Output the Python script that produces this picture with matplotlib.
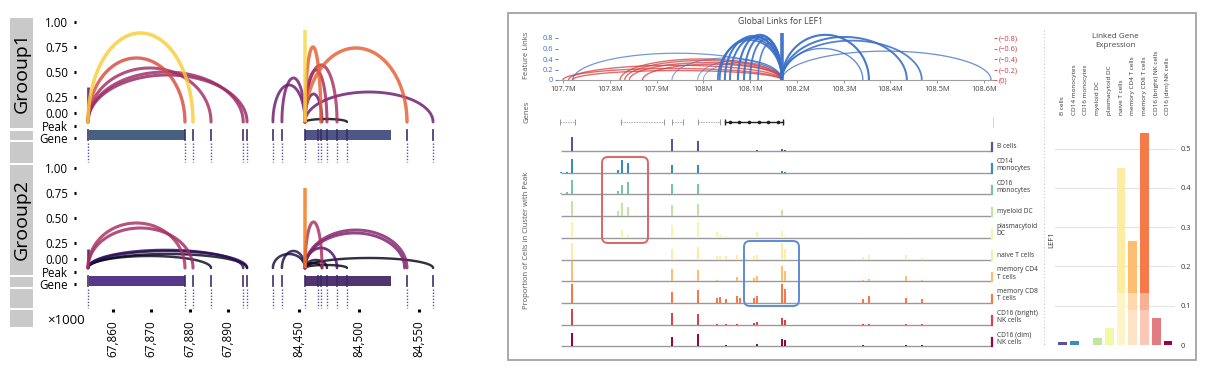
import numpy as np
import matplotlib
matplotlib.use("Agg")
import matplotlib.pyplot as plt
from matplotlib.patches import Rectangle, FancyBboxPatch
from matplotlib.transforms import Affine2D
from matplotlib.lines import Line2D

plt.rcParams['font.family'] = ['Open Sans', 'DejaVu Sans']

# ================= DATA : left arc panel =================
GROUPS = ['Grooup1', 'Grooup2']
Y_TICKS = [1.0, 0.75, 0.5, 0.25, 0.09, -0.04, -0.16]
Y_TICKLABELS = ['1.00', '0.75', '0.50', '0.25', '0.00', 'Peak', 'Gene']
R1_TICKS = [67860, 67870, 67880, 67890]
R1_TICKLABELS = ['67,860', '67,870', '67,880', '67,890']
R2_TICKS = [84450, 84500, 84550]
R2_TICKLABELS = ['84,450', '84,500', '84,550']
R1_PEAKS = [67853.5, 67878.8, 67880.9, 67885.6, 67894.0, 67895.0]
R2_PEAKS = [84428.3, 84435.8, 84455.0, 84465.8, 84468.3, 84473.3, 84481.7, 84490.0, 84540.0, 84561.7]
R1_GENE = [67853.8, 67878.8]
R2_GENE = [84455.0, 84526.7]

G1R1_START = [67853.5, 67853.5, 67853.5, 67853.5, 67853.5, 67853.5]
G1R1_END = [67880.9, 67878.8, 67885.6, 67894.0, 67895.0, 67853.5]
G1R1_HEIGHT = [0.89, 0.64, 0.54, 0.50, 0.47, 0.35]
G1R1_SCORE = [0.88, 0.58, 0.44, 0.42, 0.40, 0.25]

G1R2_START = [84428.3, 84435.8, 84455, 84455, 84455, 84455, 84455, 84455, 84455, 84455]
G1R2_END = [84455, 84455, 84455, 84468.3, 84481.7, 84473.3, 84469.2, 84540, 84561.7, 84490]
G1R2_HEIGHT = [0.37, 0.44, 0.92, 0.75, 0.57, 0.52, 0.28, 0.74, 0.30, 0.03]
G1R2_SCORE = [0.30, 0.32, 0.90, 0.64, 0.45, 0.43, 0.28, 0.64, 0.30, 0.02]

G2R1_START = [67853.5, 67853.5, 67853.5, 67853.5, 67853.5, 67853.5, 67853.5]
G2R1_END = [67878.8, 67880.9, 67885.6, 67894.0, 67895.0, 67895.0, 67853.5]
G2R1_HEIGHT = [0.45, 0.40, 0.12, 0.18, 0.17, 0.14, 0.19]
G2R1_SCORE = [0.45, 0.43, 0.06, 0.15, 0.13, 0.05, 0.15]

G2R2_START = [84455, 84455, 84455, 84455, 84455, 84428.3, 84435.8, 84455, 84455, 84455, 84455]
G2R2_END = [84455, 84469.2, 84540, 84538, 84481.7, 84455, 84455, 84561.7, 84490, 84473.3, 84469.2]
G2R2_HEIGHT = [0.80, 0.46, 0.38, 0.35, 0.20, 0.14, 0.17, 0.10, 0.03, 0.08, 0.05]
G2R2_SCORE = [0.70, 0.45, 0.36, 0.34, 0.22, 0.10, 0.12, 0.04, 0.02, 0.08, 0.05]

# ================= DATA : right (LEF1) panel =================
LINK_ANCHOR = 108.168
LINK_OTHER = [108.354, 108.435, 108.467, 108.341, 108.615,
              107.721, 107.933, 107.988, 108.000,
              108.031, 108.035, 108.046, 108.057, 108.074, 108.087, 108.100, 108.117,
              108.168,
              107.700, 107.712, 107.822, 107.832, 107.842, 107.720, 107.870]
LINK_SCORE = [0.86, 0.82, 0.75, 0.60, 0.55,
              0.51, 0.42, 0.38, 0.33,
              0.76, 0.80, 0.84, 0.82, 0.86, 0.83, 0.78, 0.70,
              0.90,
              -0.22, -0.28, -0.40, -0.37, -0.33, -0.18, -0.30]
LINK_YTICKS = [0, 0.2, 0.4, 0.6, 0.8]
LINK_LEFTLABELS = ['0', '0.2', '0.4', '0.6', '0.8']
LINK_RIGHTLABELS = ['(0)', '(\u22120.2)', '(\u22120.4)', '(\u22120.6)', '(\u22120.8)']
MB_TICKS = [107.7, 107.8, 107.9, 108.0, 108.1, 108.2, 108.3, 108.4, 108.5, 108.6]
MB_LABELS = ['107.7M', '107.8M', '107.9M', '108M', '108.1M', '108.2M', '108.3M', '108.4M', '108.5M', '108.6M']

GENE_START = [107.694, 107.824, 107.933, 107.988, 108.046]
GENE_END = [107.726, 107.916, 107.956, 108.035, 108.170]
GENE_IS_LEF1 = [False, False, False, False, True]

CELL_TYPES = ['B cells', 'CD14\nmonocytes', 'CD16\nmonocytes', 'myeloid DC', 'plasmacytoid\nDC',
              'naive T cells', 'memory CD4\nT cells', 'memory CD8\nT cells', 'CD16 (bright)\nNK cells',
              'CD16 (dim)\nNK cells']
CELL_TYPES_SHORT = ['B cells', 'CD14 monocytes', 'CD16 monocytes', 'myeloid DC', 'plasmacytoid DC',
                    'naive T cells', 'memory CD4 T cells', 'memory CD8 T cells', 'CD16 (bright) NK cells',
                    'CD16 (dim) NK cells']
PEAK_POS = [107.696, 107.709, 107.719, 107.818, 107.826, 107.839, 107.918, 107.933, 107.988,
            108.029, 108.035, 108.049, 108.072, 108.078, 108.108, 108.115, 108.168, 108.174,
            108.341, 108.354, 108.433, 108.467]
COV_B = [0, 0, .65, 0, 0, 0, 0, .55, .46, 0, 0, 0, 0, 0, 0, .04, .09, .05, 0, 0, 0, 0]
COV_CD14 = [.05, .05, .62, .14, .60, .46, 0, .37, .37, 0, 0, 0, 0, 0, 0, 0, .06, .03, 0, 0, 0, 0]
COV_CD16 = [.05, .09, .65, .14, .42, .55, 0, .46, .50, 0, 0, 0, 0, 0, 0, 0, .04, 0, 0, 0, 0, 0]
COV_MDC = [0, 0, .69, .23, .60, .42, 0, .50, .55, 0, 0, 0, 0, 0, 0, 0, .27, 0, 0, 0, 0, 0]
COV_PDC = [0, 0, .74, 0, .37, .14, .05, .60, .74, .28, .14, .09, 0, 0, 0, .28, .32, .10, .03, 0, .03, 0]
COV_NAIVE = [0, 0, .78, .03, 0, .03, 0, .50, .60, .14, .18, .14, .23, 0, .18, .20, .74, .50, .10, .20, .20, .07]
COV_CD4 = [0, 0, .92, 0, .03, .03, 0, .55, .50, .07, .03, 0, .18, 0, .14, .23, .70, .45, .07, .10, .23, .07]
COV_CD8 = [0, 0, .88, 0, 0, 0, 0, .50, .60, .23, .28, .18, .32, .23, .23, .32, .88, .65, .18, .32, .23, .18]
COV_NKB = [0, 0, .74, 0, 0, 0, 0, .55, .50, .04, 0, .04, .04, 0, .09, .14, .32, .20, .04, .04, .05, .04]
COV_NKD = [0, 0, .60, 0, .03, 0, 0, .42, .55, 0, 0, .04, 0, 0, 0, .09, .32, .28, .05, 0, .05, .04]
LEF1_EXPR = [0.008, 0.010, 0.001, 0.018, 0.044, 0.450, 0.265, 0.540, 0.068, 0.010]
EXPR_TICKS = [0, 0.1, 0.2, 0.3, 0.4, 0.5]
EXPR_LABELS = ['0', '0.1', '0.2', '0.3', '0.4', '0.5']

# ================= FIGURE =================
W, H = 1215, 373
fig = plt.figure(figsize=(W / 100, H / 100), dpi=100)
PX = Affine2D().scale(1 / 100, -1 / 100).translate(0, H / 100) + fig.dpi_scale_trans


def px_axes(x0, y0, x1, y1):
    return fig.add_axes([x0 / W, 1 - y1 / H, (x1 - x0) / W, (y1 - y0) / H])


def clean(ax):
    for s in ax.spines.values():
        s.set_visible(False)
    ax.patch.set_visible(False)


def draw_arc(ax, x0, x1, h, color, lw, alpha=1.0, zorder=2):
    if x0 == x1:
        ax.plot([x0, x0], [0, h], color=color, lw=lw, alpha=alpha, solid_capstyle='butt',
                clip_on=False, zorder=zorder)
        return
    t = np.linspace(0, np.pi, 120)
    mid, r = (x0 + x1) / 2, (x1 - x0) / 2
    ax.plot(mid + r * np.cos(t), h * np.sin(t), color=color, lw=lw, alpha=alpha,
            solid_capstyle='round', clip_on=False, zorder=zorder)


# ---------------- left panel ----------------
for (y0, y1) in [(18, 128), (131, 140), (142, 163), (165, 275), (277, 287), (289, 308), (310, 327)]:
    fig.add_artist(Rectangle((10, y0), 23, y1 - y0, transform=PX, color='#c9c9c9', lw=0))
fig.text(21.5, 73, GROUPS[0], transform=PX, rotation=90, ha='center', va='center', fontsize=14)
fig.text(21.5, 220, GROUPS[1], transform=PX, rotation=90, ha='center', va='center', fontsize=14)
fig.text(66, 320, '\u00d71000', transform=PX, ha='center', va='center', fontsize=9.5)

ARCS = [[(G1R1_START, G1R1_END, G1R1_HEIGHT, G1R1_SCORE), (G1R2_START, G1R2_END, G1R2_HEIGHT, G1R2_SCORE)],
        [(G2R1_START, G2R1_END, G2R1_HEIGHT, G2R1_SCORE), (G2R2_START, G2R2_END, G2R2_HEIGHT, G2R2_SCORE)]]
PEAKS = [R1_PEAKS, R2_PEAKS]
GENE_SPANS = [R1_GENE, R2_GENE]
GENE_COLORS = [['#46617f', '#4e5587'], ['#553a8a', '#4f3670']]
REGION_XLIM = [(67850.37, 67896.3), (84424.2, 84567.5)]
AX_X = [(76, 252), (268, 440)]
AX_Y = [(18, 163), (164, 309)]
cmap = plt.get_cmap('inferno')

for g in range(2):
    for r in range(2):
        ax = px_axes(AX_X[r][0], AX_Y[g][0], AX_X[r][1], AX_Y[g][1])
        ax.set_xlim(*REGION_XLIM[r])
        ax.set_ylim(-0.41, 1.04)
        clean(ax)
        starts, ends, heights, scores = ARCS[g][r]
        for k in np.argsort(scores):
            draw_arc(ax, starts[k], ends[k], heights[k], cmap(scores[k]),
                     1.7 + 1.2 * min(scores[k], 0.7), alpha=0.82)
        gs, ge = GENE_SPANS[r]
        ax.add_patch(Rectangle((gs, -0.18), ge - gs, 0.10, color=GENE_COLORS[g][r], lw=0, zorder=1))
        for p in PEAKS[r]:
            ax.plot([p, p], [-0.08, -0.18], color='#3b2a66', lw=1.3, zorder=2, alpha=0.9)
            ax.plot([p, p], [-0.21, -0.40], color='#5a4fb0', lw=1.0, ls=(0, (1, 1.2)), zorder=2)
        if r == 0:
            ax.set_yticks(Y_TICKS)
            ax.set_yticklabels(Y_TICKLABELS)
            ax.tick_params(axis='y', length=1.8, width=2.2, pad=4, labelsize=8.3)
        else:
            ax.set_yticks([])
        if g == 1:
            ax.set_xticks(R1_TICKS if r == 0 else R2_TICKS)
            ax.set_xticklabels(R1_TICKLABELS if r == 0 else R2_TICKLABELS, rotation=90)
            ax.tick_params(axis='x', length=1.8, width=2.2, pad=6, labelsize=8.5)
        else:
            ax.set_xticks([])

# ---------------- right panel ----------------
fig.add_artist(Rectangle((508, 13), 688, 347, transform=PX, fill=False, ec='#a3a3a3', lw=1.3))
fig.add_artist(Line2D([1044, 1044], [30, 345], transform=PX, color='#c8c8c8', lw=0.8, ls=(0, (1, 2))))
fig.text(780, 21, 'Global Links for LEF1', transform=PX, ha='center', va='center', fontsize=6.3, color='#444444')
fig.text(527, 55, 'Feature Links', transform=PX, rotation=90, ha='center', va='center', fontsize=5.5, color='#555555')
fig.text(527, 112, 'Genes', transform=PX, rotation=90, ha='center', va='center', fontsize=5.5, color='#555555')
fig.text(527, 240, 'Proportion of Cells in Cluster with Peak', transform=PX, rotation=90,
         ha='center', va='center', fontsize=5.5, color='#555555')

XL = (107.6893, 108.6214)
BLUE, RED = '#3a6fc6', '#d63c3c'

# links
axl = px_axes(558, 27.5, 994, 80)
axl.set_xlim(*XL)
axl.set_ylim(0, 1)
clean(axl)
axl.spines['bottom'].set_visible(True)
axl.spines['bottom'].set_color('#a0a0a0')
axl.spines['bottom'].set_linewidth(0.8)
order = np.argsort(np.abs(LINK_SCORE))
for k in order:
    s = LINK_SCORE[k]
    a = abs(s)
    lo, hi = sorted([LINK_ANCHOR, LINK_OTHER[k]])
    if s > 0:
        draw_arc(axl, lo, hi, a, BLUE, 0.5 + 1.4 * a ** 2 if lo != hi else 2.6, alpha=0.45 + 0.55 * a)
    else:
        draw_arc(axl, lo, hi, a, RED, 1.0, alpha=0.75)
axl.set_xticks(MB_TICKS)
axl.set_xticklabels(MB_LABELS)
axl.tick_params(axis='x', length=2, width=0.6, color='#888888', pad=2, labelsize=5.3, labelcolor='#444444')
axl.set_yticks(LINK_YTICKS)
axl.set_yticklabels(LINK_LEFTLABELS)
axl.tick_params(axis='y', length=2.5, width=0.6, color=BLUE, pad=1, labelsize=5.3, labelcolor=BLUE)
axr = axl.twinx()
axr.set_ylim(0, 1)
clean(axr)
axr.set_yticks(LINK_YTICKS)
axr.set_yticklabels(LINK_RIGHTLABELS)
axr.tick_params(axis='y', length=2.5, width=0.6, color=RED, pad=1, labelsize=5.3, labelcolor=RED)

# genes
axg = px_axes(558, 112, 994, 132)
axg.set_xlim(*XL)
axg.set_ylim(0, 1)
clean(axg)
axg.set_xticks([])
axg.set_yticks([])
for gs, ge, main in zip(GENE_START, GENE_END, GENE_IS_LEF1):
    if main:
        axg.plot([gs, ge], [0.5, 0.5], color='#222222', lw=1.0)
        axg.plot(np.linspace(gs + 0.01, ge - 0.01, 6), [0.5] * 6, ls='none', marker='o', ms=1.6, color='#222222')
        axg.plot([gs, ge], [0.5, 0.5], ls='none', marker='|', ms=5, mew=1.0, color='#222222')
    else:
        axg.plot([gs, ge], [0.5, 0.5], color='#aaaaaa', lw=0.6, ls=(0, (2, 1)))
        axg.plot([gs, ge], [0.5, 0.5], ls='none', marker='|', ms=4, mew=0.7, color='#999999')
axg.plot([108.619, 108.619], [0.25, 0.75], color='#cccccc', lw=0.6)

# coverage tracks
COV = [COV_B, COV_CD14, COV_CD16, COV_MDC, COV_PDC, COV_NAIVE, COV_CD4, COV_CD8, COV_NKB, COV_NKD]
spec = plt.get_cmap('Spectral_r')
CELL_COLORS = [spec(i / 9) for i in range(10)]
axc = px_axes(558, 128, 994, 352)
axc.set_xlim(*XL)
axc.set_ylim(-9.26, 1.06)
clean(axc)
axc.set_xticks([])
axc.set_yticks([])
for i, row in enumerate(COV):
    axc.hlines(-i, 107.695, 108.6177, color='#9a9a9a', lw=1.0, zorder=1)
    axc.bar(PEAK_POS, row, bottom=-i, width=0.0042, color=CELL_COLORS[i], lw=0, zorder=2)
    axc.plot([108.6177, 108.6177], [-i, -i + 0.38], color=CELL_COLORS[i], lw=1.6, clip_on=False)
    axc.text(108.6273, -i + 0.03, CELL_TYPES[i], fontsize=4.8, color='#333333', va='bottom', ha='left',
             linespacing=1.05, clip_on=False)

fig.add_artist(FancyBboxPatch((602, 157), 46, 86, boxstyle='round,pad=0,rounding_size=6', transform=PX,
                              fill=False, ec='#e06464', lw=1.4))
fig.add_artist(FancyBboxPatch((744, 241), 55, 65, boxstyle='round,pad=0,rounding_size=6', transform=PX,
                              fill=False, ec='#5b8bd9', lw=1.4))

# linked gene expression
fig.text(1115, 41, 'Linked Gene\nExpression', transform=PX, ha='center', va='center', fontsize=5.8,
         color='#444444', linespacing=1.4)
fig.text(1052, 240, 'LEF1', transform=PX, rotation=90, ha='center', va='center', fontsize=5.5, color='#333333')
axe = px_axes(1055, 118, 1175, 345)
axe.set_xlim(-0.64, 9.6)
axe.set_ylim(0, (345 - 118) / 393.0)
clean(axe)
axe.yaxis.grid(True, color='#e4e4e4', lw=0.8)
axe.set_axisbelow(True)
axe.bar(range(10), LEF1_EXPR, width=0.75, color=CELL_COLORS, lw=0, zorder=2)
axe.add_patch(Rectangle((4.55, 0), 2.95, 0.133, color='white', alpha=0.42, lw=0, zorder=3))
axe.add_patch(Rectangle((5.6, 0), 2.9, 0.09, color='white', alpha=0.3, lw=0, zorder=3))
axe.yaxis.tick_right()
axe.set_yticks(EXPR_TICKS)
axe.set_yticklabels(EXPR_LABELS)
axe.tick_params(axis='y', length=0, pad=4, labelsize=5.3, labelcolor='#333333')
axe.xaxis.tick_top()
axe.set_xticks(range(10))
axe.set_xticklabels(CELL_TYPES_SHORT, rotation=90, fontsize=4.6, color='#333333')
axe.tick_params(axis='x', length=0, pad=2)

fig.savefig('out.png', dpi=100)
